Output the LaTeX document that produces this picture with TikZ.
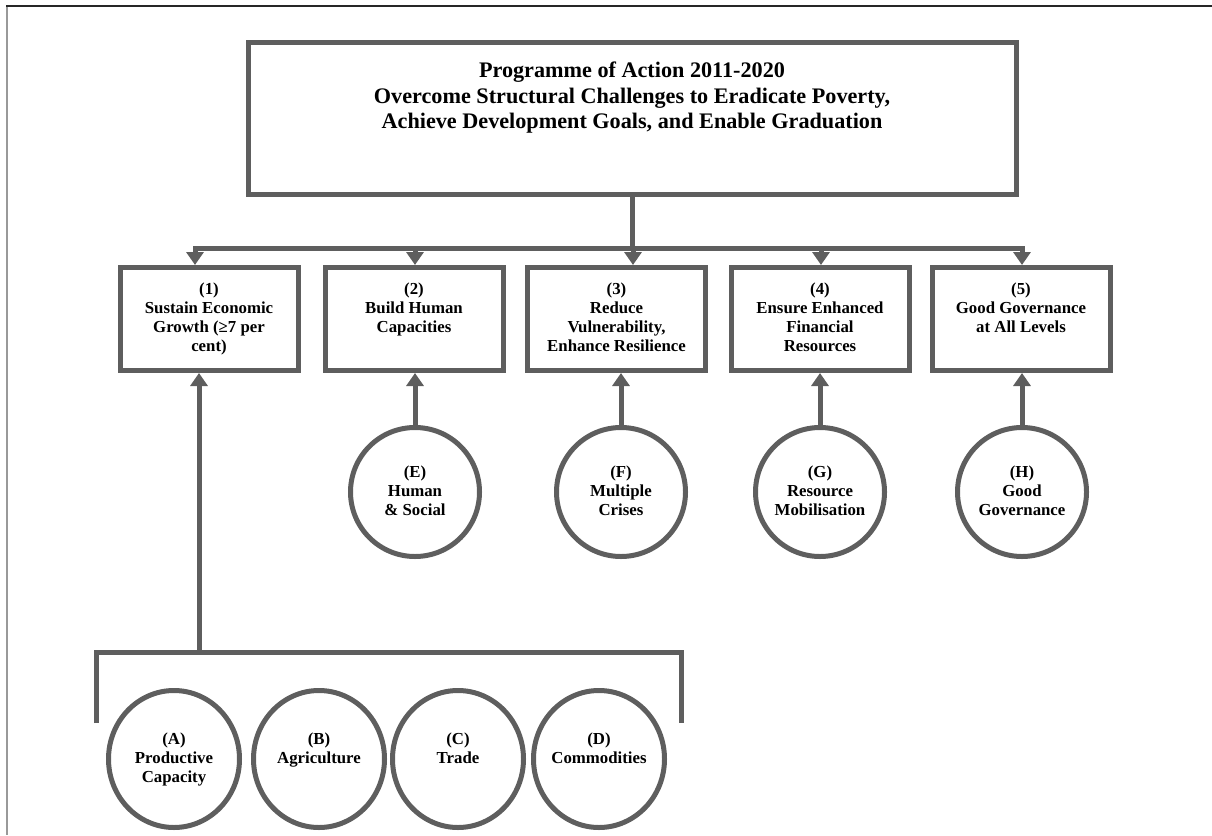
\documentclass[tikz,border=0pt]{standalone}
\usepackage{fontspec}
\setmainfont{Liberation Serif}
\usepackage{tikz}
\usetikzlibrary{arrows.meta, shapes.geometric}

\definecolor{linegray}{HTML}{5E5E5E}
\definecolor{edgegray}{HTML}{999999}
\newcommand{\boxlines}[1]{\parbox[c][72pt][t]{168pt}{\centering #1}}
\newcommand{\ringlines}[1]{\parbox[c][52pt][t]{98pt}{\centering #1}}

\begin{document}
\begin{tikzpicture}[x=1pt, y=-1pt,
        every node/.style={font=\fontsize{16.8}{19}\selectfont\bfseries, inner sep=0pt},
        frame/.style={draw=linegray, line width=5pt},
        goalbox/.style={frame, minimum width=178pt, minimum height=103pt},
        ring/.style={frame, circle, minimum size=129pt},
        pillar/.style={frame, ellipse, inner sep=-4pt, minimum width=131pt, minimum height=137pt},
        bar/.style={draw=linegray, line width=5pt},
        link/.style={bar, -{Triangle[width=17pt,length=13pt]}}]
        \useasboundingbox (0,0) rectangle (1212,835);
        % page edges
        \draw[edgegray, line width=2pt] (6.5,6) -- (6.5,835);
        \draw[black!85, line width=2pt] (6,6) -- (1212,6);

        % programme of action
        \node[frame, minimum width=768pt, minimum height=152pt] (poa) at (632,118.5) {};
        \node[font=\fontsize{22.2}{25.5}\selectfont\bfseries, align=center] (poatext) at (632,98)
            {Programme of Action 2011-2020\\
             Overcome Structural Challenges to Eradicate Poverty,\\
             Achieve Development Goals, and Enable Graduation};

        % goals
        \node[goalbox] (g1) at (209,319) {\boxlines{(1)\\ Sustain Economic\\ Growth (≥7 per\\ cent)}};
        \node[goalbox] (g2) at (414,319) {\boxlines{(2)\\ Build Human\\ Capacities}};
        \node[goalbox] (g3) at (616.5,319) {\boxlines{(3)\\ Reduce\\ Vulnerability,\\ Enhance Resilience}};
        \node[goalbox] (g4) at (820,319) {\boxlines{(4)\\ Ensure Enhanced\\ Financial\\ Resources}};
        \node[goalbox] (g5) at (1021,319) {\boxlines{(5)\\ Good Governance\\ at All Levels}};

        \coordinate (bus) at (632,248);
        \draw[bar] (poa.south) -- (bus);
        \draw[bar, line cap=rect] ([xshift=-14pt]g1.north |- bus) -- ([xshift=1pt]g5.north |- bus);
        \draw[link] ([xshift=-14pt]g1.north |- bus) -- ([xshift=-14pt]g1.north);
        \draw[link] ([xshift=16.5pt]g3.north |- bus) -- ([xshift=16.5pt]g3.north);
        \foreach \g in {g2, g4, g5}
            \draw[link] ([xshift=1pt]\g.north |- bus) -- ([xshift=1pt]\g.north);

        % priority areas
        \node[ring] (e) at (415,492) {\ringlines{(E)\\ Human\\ \& Social}};
        \node[ring] (f) at (621,492) {\ringlines{(F)\\ Multiple\\ Crises}};
        \node[ring] (gr) at (820,492) {\ringlines{(G)\\ Resource\\ Mobilisation}};
        \node[ring] (h) at (1022,492) {\ringlines{(H)\\ Good\\ Governance}};
        \foreach \r/\g in {e/g2, f/g3, gr/g4, h/g5}
            \draw[link] (\r.north) -- (\r.north |- \g.south);

        % productive capacity group
        \node[pillar] (pa) at (174,759) {\ringlines{(A)\\ Productive\\ Capacity}};
        \node[pillar] (pb) at (319,759) {\ringlines{(B)\\ Agriculture}};
        \node[pillar] (pc) at (458,759) {\ringlines{(C)\\ Trade}};
        \node[pillar] (pd) at (599,759) {\ringlines{(D)\\ Commodities}};

        \coordinate (lleg) at (96,723);
        \coordinate (rleg) at (681,723);
        \coordinate (brace) at (199,652);
        \draw[bar] (lleg) -- (lleg |- brace) -- (rleg |- brace) -- (rleg);
        \draw[link] (brace) -- (brace |- g1.south);
\end{tikzpicture}
\end{document}
